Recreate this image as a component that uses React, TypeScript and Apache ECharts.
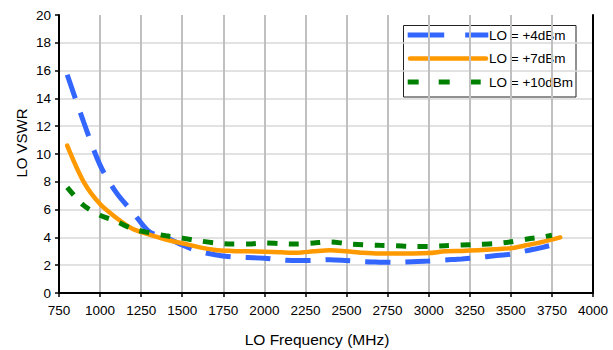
import React, { useEffect, useRef } from "react";
import * as echarts from "echarts";

const freqA = [800, 900, 1000, 1100, 1200, 1300, 1400, 1500, 1600, 1700, 1800, 1900, 2000, 2100, 2200, 2300, 2400, 2500, 2600, 2700, 2800, 2900, 3000, 3100, 3200, 3300, 3400, 3500, 3600, 3700, 3750];
const freqB = [800, 900, 1000, 1100, 1200, 1300, 1400, 1500, 1600, 1700, 1800, 1900, 2000, 2100, 2200, 2300, 2400, 2500, 2600, 2700, 2800, 2900, 3000, 3100, 3200, 3300, 3400, 3500, 3600, 3700, 3800];

const lo4 = [15.7, 12.3, 9.2, 7.2, 5.8, 4.4, 4.0, 3.45, 3.0, 2.75, 2.6, 2.55, 2.5, 2.38, 2.33, 2.33, 2.4, 2.33, 2.25, 2.22, 2.2, 2.25, 2.3, 2.38, 2.45, 2.55, 2.68, 2.8, 3.05, 3.3, 3.45];
const lo7 = [10.6, 8.0, 6.4, 5.4, 4.6, 4.2, 3.85, 3.58, 3.3, 3.1, 3.03, 3.0, 2.97, 2.93, 2.9, 3.0, 3.08, 3.0, 2.9, 2.85, 2.85, 2.85, 2.87, 3.0, 3.03, 3.08, 3.15, 3.22, 3.45, 3.7, 4.0];
const lo10 = [7.6, 6.3, 5.6, 5.15, 4.6, 4.33, 4.12, 3.95, 3.76, 3.6, 3.52, 3.52, 3.6, 3.55, 3.52, 3.6, 3.68, 3.55, 3.47, 3.43, 3.4, 3.35, 3.35, 3.4, 3.45, 3.5, 3.55, 3.68, 3.88, 4.05, 4.15];

const seriesNames = ["LO = +4dBm", "LO = +7dBm", "LO = +10dBm"];
const xName = "LO Frequency (MHz)";
const yName = "LO VSWR";

const FONT = "'Liberation Sans', Arial, sans-serif";

function pairs(xs: number[], ys: number[]) {
  return xs.map((x, i) => [x, ys[i]]);
}

export default function App() {
  const ref = useRef<HTMLDivElement>(null);
  useEffect(() => {
    if (!ref.current) return;
    const chart = echarts.init(ref.current, undefined, { renderer: "svg" });
    const labelStyle = { color: "#000", fontSize: 13.5, fontFamily: FONT, formatter: (v: number) => String(v) };
    chart.setOption({
      animation: false,
      backgroundColor: "#fff",
      textStyle: { fontFamily: FONT },
      grid: { left: 59, right: 20, top: 15, bottom: 57, containLabel: false },
      xAxis: [
        {
          type: "value",
          min: 750,
          max: 4000,
          interval: 250,
          axisLine: { show: true, lineStyle: { color: "#000", width: 2 } },
          axisTick: { show: true, length: 4, lineStyle: { color: "#000", width: 1.5 } },
          axisLabel: { ...labelStyle, margin: 10 },
          splitLine: { show: true, showMinLine: false, showMaxLine: false, lineStyle: { color: "#c0c0c0", width: 2 } },
        },
        {
          type: "value",
          position: "top",
          min: 750,
          max: 4000,
          interval: 250,
          axisLine: { show: true, lineStyle: { color: "#000", width: 2 } },
          axisTick: { show: false },
          axisLabel: { show: false },
          splitLine: { show: false },
        },
      ],
      yAxis: [
        {
          type: "value",
          min: 0,
          max: 20,
          interval: 2,
          axisLine: { show: true, lineStyle: { color: "#000", width: 2 } },
          axisTick: { show: true, length: 4, lineStyle: { color: "#000", width: 1.5 } },
          axisLabel: { ...labelStyle, margin: 8 },
          splitLine: { show: true, showMinLine: false, showMaxLine: false, lineStyle: { color: "#d9d9d9", width: 1.5 } },
        },
        {
          type: "value",
          position: "right",
          min: 0,
          max: 20,
          interval: 2,
          axisLine: { show: true, lineStyle: { color: "#000", width: 2 } },
          axisTick: { show: false },
          axisLabel: { show: false },
          splitLine: { show: false },
        },
      ],
      series: [
        {
          name: seriesNames[0],
          type: "line",
          data: pairs(freqA, lo4),
          smooth: 0.3,
          showSymbol: false,
          symbol: "none",
          lineStyle: { color: "#3366ff", width: 5, type: [25, 15], cap: "butt" },
        },
        {
          name: seriesNames[1],
          type: "line",
          data: pairs(freqB, lo7),
          smooth: 0.3,
          showSymbol: false,
          symbol: "none",
          lineStyle: { color: "#ff9900", width: 4.5, type: "solid", cap: "round", join: "round" },
        },
        {
          name: seriesNames[2],
          type: "line",
          data: pairs(freqA, lo10),
          smooth: 0.3,
          showSymbol: false,
          symbol: "none",
          lineStyle: { color: "#008000", width: 5, type: [10, 11.5], cap: "butt" },
        },
      ],
      graphic: [
        {
          type: "text",
          x: 21.5,
          y: 143,
          rotation: Math.PI / 2,
          style: { text: yName, fontSize: 15, fontFamily: FONT, fill: "#000", align: "center", verticalAlign: "middle" },
        },
        {
          type: "text",
          x: 317,
          y: 339,
          style: { text: xName, fontSize: 15.5, fontFamily: FONT, fill: "#000", align: "center", verticalAlign: "middle" },
        },
        {
          type: "group",
          z: 100,
          children: [
            { type: "rect", shape: { x: 403.5, y: 25.5, width: 172.5, height: 71.5 }, style: { fill: "#fff", stroke: "#222", lineWidth: 1 } },
            { type: "line", shape: { x1: 407.7, y1: 35, x2: 488.3, y2: 35 }, style: { stroke: "#3366ff", lineWidth: 5, lineDash: [36.5, 21] } },
            { type: "line", shape: { x1: 410, y1: 58.5, x2: 486, y2: 58.5 }, style: { stroke: "#ff9900", lineWidth: 4.5, lineCap: "round" } },
            { type: "line", shape: { x1: 407.7, y1: 82, x2: 481, y2: 82 }, style: { stroke: "#008000", lineWidth: 5, lineDash: [11, 20] } },
            { type: "text", x: 489, y: 35, style: { text: seriesNames[0], fontSize: 13.5, fontFamily: FONT, fill: "#000", verticalAlign: "middle" } },
            { type: "text", x: 489, y: 58.5, style: { text: seriesNames[1], fontSize: 13.5, fontFamily: FONT, fill: "#000", verticalAlign: "middle" } },
            { type: "text", x: 489, y: 82, style: { text: seriesNames[2], fontSize: 13.5, fontFamily: FONT, fill: "#000", verticalAlign: "middle" } },
          ],
        },
      ],
    });
    return () => chart.dispose();
  }, []);
  return (
    <div
      ref={ref}
      style={{ position: "fixed", left: 0, top: 0, width: 613, height: 350, background: "#fff" }}
    />
  );
}
